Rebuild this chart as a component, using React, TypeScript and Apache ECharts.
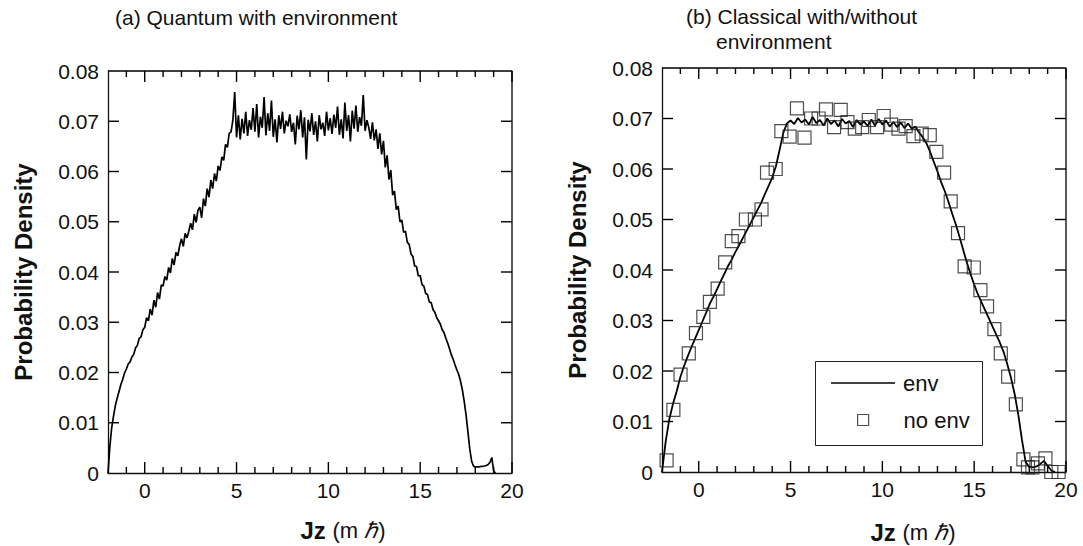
import React, { useEffect, useRef } from 'react';
import * as echarts from 'echarts';

const FONT = "'Liberation Sans', Arial, Helvetica, sans-serif";

// Axis ticks
const X_MIN = -2;
const X_MAX = 20;
const X_MAJOR = [0, 5, 10, 15, 20];
const X_MINOR = [-1, 1, 2, 3, 4, 6, 7, 8, 9, 11, 12, 13, 14, 16, 17, 18, 19];
const Y_MIN = 0;
const Y_MAX = 0.08;
const Y_STEP = 0.01;
const Y_TICKS = [0.01, 0.02, 0.03, 0.04, 0.05, 0.06, 0.07];

// (a) Quantum with environment: x from -2 in steps of 0.1
const Q_X_START = -2;
const Q_X_STEP = 0.1;
const quantumEnv = [
  0.0000, 0.0052, 0.0090, 0.0113, 0.0134, 0.0149, 0.0162, 0.0176, 0.0186, 0.0199,
  0.0207, 0.0217, 0.0221, 0.0231, 0.0236, 0.0249, 0.0254, 0.0268, 0.0271, 0.0285,
  0.0290, 0.0309, 0.0303, 0.0326, 0.0314, 0.0344, 0.0330, 0.0359, 0.0346, 0.0374,
  0.0372, 0.0391, 0.0384, 0.0409, 0.0398, 0.0427, 0.0414, 0.0439, 0.0432, 0.0452,
  0.0466, 0.0451, 0.0477, 0.0468, 0.0481, 0.0497, 0.0484, 0.0515, 0.0499, 0.0523,
  0.0529, 0.0508, 0.0546, 0.0531, 0.0566, 0.0549, 0.0583, 0.0566, 0.0596, 0.0581,
  0.0611, 0.0602, 0.0629, 0.0622, 0.0654, 0.0648, 0.0676, 0.0679, 0.0702, 0.0758,
  0.0668, 0.0712, 0.0664, 0.0705, 0.0676, 0.0719, 0.0671, 0.0702, 0.0683, 0.0726,
  0.0679, 0.0734, 0.0668, 0.0709, 0.0687, 0.0748, 0.0672, 0.0716, 0.0681, 0.0741,
  0.0669, 0.0704, 0.0658, 0.0712, 0.0685, 0.0719, 0.0676, 0.0701, 0.0690, 0.0714,
  0.0679, 0.0697, 0.0654, 0.0711, 0.0684, 0.0722, 0.0668, 0.0708, 0.0624, 0.0703,
  0.0680, 0.0716, 0.0673, 0.0700, 0.0660, 0.0712, 0.0684, 0.0697, 0.0671, 0.0719,
  0.0682, 0.0706, 0.0675, 0.0713, 0.0687, 0.0729, 0.0673, 0.0704, 0.0666, 0.0737,
  0.0681, 0.0712, 0.0660, 0.0721, 0.0685, 0.0731, 0.0679, 0.0708, 0.0691, 0.0752,
  0.0681, 0.0702, 0.0688, 0.0665, 0.0698, 0.0662, 0.0684, 0.0645, 0.0676, 0.0634,
  0.0661, 0.0608, 0.0632, 0.0584, 0.0603, 0.0553, 0.0561, 0.0524, 0.0531, 0.0500,
  0.0503, 0.0479, 0.0481, 0.0459, 0.0455, 0.0436, 0.0431, 0.0412, 0.0411, 0.0392,
  0.0393, 0.0375, 0.0372, 0.0357, 0.0355, 0.0340, 0.0339, 0.0325, 0.0320, 0.0309,
  0.0303, 0.0296, 0.0285, 0.0279, 0.0268, 0.0258, 0.0247, 0.0235, 0.0226, 0.0215,
  0.0205, 0.0196, 0.0182, 0.0165, 0.0142, 0.0115, 0.0082, 0.0048, 0.0024, 0.0014,
  0.0012, 0.0012, 0.0012, 0.0013, 0.0013, 0.0014, 0.0015, 0.0017, 0.0021, 0.0031,
  0.0004, 0.0000,
];

// (b) Classical with environment: x from -2 in steps of 0.2
const C_X_START = -2;
const C_X_STEP = 0.2;
const classicalEnv = [
  0.0000, 0.0060, 0.0105, 0.0135, 0.0160, 0.0188, 0.0210, 0.0229, 0.0247, 0.0264,
  0.0281, 0.0298, 0.0315, 0.0333, 0.0347, 0.0362, 0.0378, 0.0393, 0.0408, 0.0421,
  0.0436, 0.0449, 0.0463, 0.0477, 0.0491, 0.0505, 0.0519, 0.0533, 0.0550, 0.0566,
  0.0583, 0.0605, 0.0637, 0.0671, 0.0690, 0.0696, 0.0689, 0.0701, 0.0692, 0.0698,
  0.0688, 0.0703, 0.0691, 0.0697, 0.0686, 0.0700, 0.0689, 0.0696, 0.0684, 0.0699,
  0.0690, 0.0695, 0.0683, 0.0697, 0.0688, 0.0694, 0.0685, 0.0698, 0.0686, 0.0699,
  0.0688, 0.0696, 0.0684, 0.0693, 0.0683, 0.0692, 0.0681, 0.0690, 0.0680, 0.0684,
  0.0672, 0.0663, 0.0651, 0.0634, 0.0614, 0.0595, 0.0574, 0.0556, 0.0535, 0.0512,
  0.0490, 0.0466, 0.0440, 0.0415, 0.0392, 0.0371, 0.0352, 0.0336, 0.0320, 0.0304,
  0.0288, 0.0272, 0.0256, 0.0238, 0.0214, 0.0187, 0.0155, 0.0114, 0.0064, 0.0020,
  0.0010, 0.0009, 0.0011, 0.0016, 0.0022, 0.0012, 0.0003, 0.0000,
];

// (b) Classical without environment (squares)
const noEnvX = [
  -1.75, -1.38, -0.99, -0.54, -0.15, 0.25, 0.61, 1.03, 1.44, 1.8,
  2.16, 2.57, 3.06, 3.42, 3.72, 4.19, 4.5, 4.95, 5.35, 5.76,
  6.12, 6.53, 6.93, 7.37, 7.73, 8.1, 8.5, 8.9, 9.26, 9.71,
  10.07, 10.48, 10.88, 11.27, 11.69, 12.14, 12.58, 12.94, 13.36, 13.72,
  14.12, 14.48, 14.98, 15.34, 15.7, 16.1, 16.45, 16.85, 17.27, 17.68,
  17.93, 18.17, 18.47, 18.88, 19.2, 19.6,
];
const noEnvY = [
  0.0023, 0.0123, 0.0193, 0.0235, 0.0275, 0.0307, 0.0337, 0.0363, 0.0415, 0.0457,
  0.0467, 0.05, 0.05, 0.052, 0.0593, 0.06, 0.0675, 0.0664, 0.072, 0.0662,
  0.07, 0.07, 0.0718, 0.0683, 0.0717, 0.0693, 0.068, 0.0683, 0.0697, 0.0683,
  0.0705, 0.0688, 0.068, 0.0685, 0.0665, 0.067, 0.0667, 0.0634, 0.0593, 0.0536,
  0.0473, 0.0407, 0.0405, 0.036, 0.0328, 0.0283, 0.0235, 0.0189, 0.0134, 0.0025,
  0.0009, 0.0009, 0.0017, 0.0027, 0.0, 0.0,
];

const TITLE_A = '(a) Quantum with environment';
const TITLE_B1 = '(b) Classical with/without';
const TITLE_B2 = 'environment';
const Y_NAME = 'Probability Density';
const LEGEND_ENV = 'env';
const LEGEND_NOENV = 'no env';

const toPairs = (start: number, step: number, vals: number[]) =>
  vals.map((v, i) => [Number((start + i * step).toFixed(2)), v]);

const BLACK = '#111';
const MAJOR_LEN = 11;
const MINOR_LEN = 6;
const TICK_W = 1.4;

// Tick marks drawn as thin rect symbols placed by the axes' own scales
function tickItems() {
  const items: any[] = [];
  const xTick = (v: number, len: number) => {
    items.push({ value: [v, Y_MIN], symbolSize: [TICK_W, len], symbolOffset: [0, -len / 2] });
    items.push({ value: [v, Y_MAX], symbolSize: [TICK_W, len], symbolOffset: [0, len / 2] });
  };
  X_MAJOR.forEach((v) => xTick(v, MAJOR_LEN));
  X_MINOR.forEach((v) => xTick(v, MINOR_LEN));
  Y_TICKS.forEach((v) => {
    items.push({ value: [X_MIN, v], symbolSize: [MAJOR_LEN, TICK_W], symbolOffset: [MAJOR_LEN / 2, 0] });
    items.push({ value: [X_MAX, v], symbolSize: [MAJOR_LEN, TICK_W], symbolOffset: [-MAJOR_LEN / 2, 0] });
  });
  return items;
}

function tickSeries(axisIndex: number) {
  return {
    name: 'ticks ' + axisIndex,
    type: 'scatter',
    xAxisIndex: axisIndex,
    yAxisIndex: axisIndex,
    data: tickItems(),
    symbol: 'rect',
    itemStyle: { color: '#000', borderWidth: 0, opacity: 1 },
    clip: false,
    silent: true,
    z: 6,
  };
}

// Top and right edges of the plot frame
function frameSeries(axisIndex: number) {
  return {
    name: 'frame ' + axisIndex,
    type: 'line',
    xAxisIndex: axisIndex,
    yAxisIndex: axisIndex,
    data: [
      [X_MIN, Y_MAX],
      [X_MAX, Y_MAX],
      [X_MAX, Y_MIN],
    ],
    showSymbol: false,
    symbol: 'none',
    clip: false,
    silent: true,
    lineStyle: { color: '#000', width: 1.3 },
    z: 6,
  };
}

function xAxisFor(grid: number) {
  return {
    gridIndex: grid,
    type: 'value',
    min: X_MIN,
    max: X_MAX,
    splitLine: { show: false },
    axisLine: { show: true, lineStyle: { color: BLACK, width: 1.3 } },
    axisTick: { show: false },
    axisLabel: {
      show: true,
      customValues: X_MAJOR,
      fontSize: 21,
      fontFamily: FONT,
      color: BLACK,
      margin: 7,
    },
  };
}

function yAxisFor(grid: number) {
  return {
    gridIndex: grid,
    type: 'value',
    min: Y_MIN,
    max: Y_MAX,
    interval: Y_STEP,
    splitLine: { show: false },
    axisLine: { show: true, onZero: false, lineStyle: { color: BLACK, width: 1.3 } },
    axisTick: { show: false },
    name: Y_NAME,
    nameLocation: 'middle',
    nameRotate: 90,
    nameGap: 73,
    nameTextStyle: { fontSize: 24, fontWeight: 'bold', fontFamily: FONT, color: BLACK },
    axisLabel: {
      show: true,
      fontSize: 21,
      fontFamily: FONT,
      color: BLACK,
      margin: 9,
      formatter: (v: number) => (v === 0 ? '0' : v.toFixed(2)),
    },
  };
}

const xNameRich = {
  b: { fontSize: 24, fontWeight: 'bold', fontFamily: FONT, fill: BLACK, color: BLACK },
  n: { fontSize: 22, fontFamily: FONT, fill: BLACK, color: BLACK },
  h: { fontSize: 22, fontStyle: 'italic', fontFamily: FONT, fill: BLACK, color: BLACK },
};
const X_NAME_TEXT = '{b|Jz }{n|(m }{h|ℏ}{n|)}';

export default function App() {
  const ref = useRef<HTMLDivElement>(null);

  useEffect(() => {
    if (!ref.current) return;
    const chart = echarts.init(ref.current, undefined, { renderer: 'svg' });
    const titleStyle = { fontSize: 21, fontWeight: 'normal', fontFamily: FONT, color: BLACK };
    const option: any = {
      animation: false,
      backgroundColor: '#fff',
      title: [
        { text: TITLE_A, left: 115, top: 7, padding: 0, textStyle: titleStyle },
        { text: TITLE_B1, left: 686, top: 6, padding: 0, textStyle: titleStyle },
        { text: TITLE_B2, left: 716, top: 31, padding: 0, textStyle: titleStyle },
      ],
      grid: [
        { left: 108, top: 71, width: 404, height: 402 },
        { left: 662, top: 68, width: 404, height: 404 },
      ],
      xAxis: [xAxisFor(0), xAxisFor(1)],
      yAxis: [yAxisFor(0), yAxisFor(1)],
      legend: [
        {
          data: [{ name: LEGEND_ENV, icon: 'rect', itemStyle: { color: '#000', borderWidth: 0 } }],
          left: 831,
          top: 372,
          padding: 0,
          itemWidth: 64,
          itemHeight: 1.6,
          selectedMode: false,
          textStyle: { fontSize: 22, fontFamily: FONT, color: BLACK, padding: [0, 0, 0, 3] },
        },
        {
          data: [{ name: LEGEND_NOENV, icon: 'rect' }],
          left: 857,
          top: 409,
          padding: 0,
          itemWidth: 11,
          itemHeight: 11,
          selectedMode: false,
          itemStyle: { color: 'rgba(0,0,0,0)', borderColor: '#222', borderWidth: 1.2 },
          textStyle: { fontSize: 22, fontFamily: FONT, color: BLACK, padding: [0, 0, 0, 30] },
        },
      ],
      graphic: [
        {
          type: 'rect',
          z: 3,
          shape: { x: 815.5, y: 361.5, width: 167, height: 84 },
          style: { fill: '#fff', stroke: '#222', lineWidth: 1 },
        },
        {
          type: 'text',
          x: 343,
          y: 530,
          style: { text: X_NAME_TEXT, rich: xNameRich, align: 'center', verticalAlign: 'middle', fill: BLACK },
        },
        {
          type: 'text',
          x: 913,
          y: 532,
          style: { text: X_NAME_TEXT, rich: xNameRich, align: 'center', verticalAlign: 'middle', fill: BLACK },
        },
      ],
      series: [
        frameSeries(0),
        frameSeries(1),
        tickSeries(0),
        tickSeries(1),
        {
          name: 'quantum env',
          type: 'line',
          xAxisIndex: 0,
          yAxisIndex: 0,
          data: toPairs(Q_X_START, Q_X_STEP, quantumEnv),
          showSymbol: false,
          symbol: 'none',
          lineStyle: { color: '#000', width: 1.7 },
          z: 2,
        },
        {
          name: LEGEND_ENV,
          type: 'line',
          xAxisIndex: 1,
          yAxisIndex: 1,
          data: toPairs(C_X_START, C_X_STEP, classicalEnv),
          showSymbol: false,
          symbol: 'none',
          itemStyle: { color: '#000' },
          lineStyle: { color: '#000', width: 1.8 },
          z: 2,
        },
        {
          name: LEGEND_NOENV,
          type: 'scatter',
          xAxisIndex: 1,
          yAxisIndex: 1,
          data: noEnvX.map((x, i) => [x, noEnvY[i]]),
          symbol: 'rect',
          symbolSize: 13,
          itemStyle: { color: 'rgba(0,0,0,0)', borderColor: '#222', borderWidth: 1.2 },
          z: 3,
        },
      ],
    };
    chart.setOption(option);
    return () => chart.dispose();
  }, []);

  return (
    <div
      ref={ref}
      style={{ position: 'absolute', left: 0, top: 0, width: 1083, height: 546 }}
    />
  );
}
